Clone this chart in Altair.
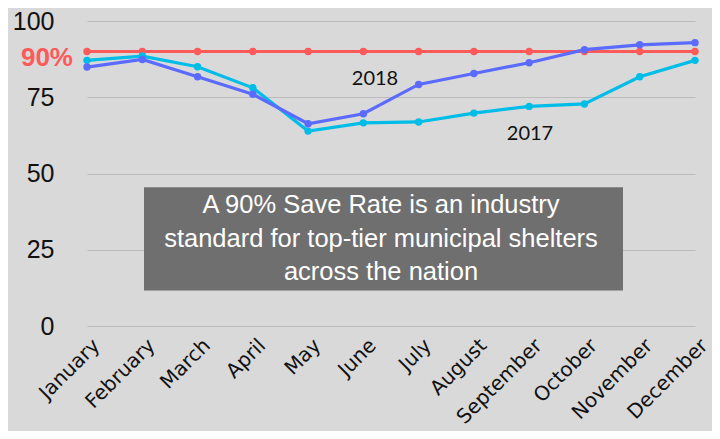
import altair as alt
import pandas as pd

months = ["January", "February", "March", "April", "May", "June", "July",
          "August", "September", "October", "November", "December"]
rate_2018 = [84.9, 87.4, 81.7, 76.0, 66.3, 69.6, 79.2, 82.8, 86.3, 90.6, 92.2, 92.9]
rate_2017 = [87.1, 88.5, 85.0, 78.1, 63.9, 66.6, 66.9, 69.8, 72.0, 72.8, 81.7, 87.1]
target = [90] * 12
y_ticks = [0, 25, 50, 75, 100]
note_lines = ["A 90% Save Rate is an industry",
              "standard for top-tier municipal shelters",
              "across the nation"]
series_labels = ["2018", "2017"]

BG = "#d9d9d9"
RED = "#ff5a5a"
BLUE = "#5b6bff"
CYAN = "#00bde8"

W, H = 652, 305

df = pd.DataFrame({
    "month": months * 3,
    "value": target + rate_2017 + rate_2018,
    "series": ["target"] * 12 + ["2017"] * 12 + ["2018"] * 12,
})

x_enc = alt.X("month:N", sort=months,
              scale=alt.Scale(type="point", padding=0, range=[27, 635]),
              axis=alt.Axis(title=None, labelAngle=-45, labelFontSize=20,
                            labelFont="DejaVu Sans", labelColor="#111111",
                            ticks=False, domain=False, grid=False,
                            labelPadding=9, labelOffset=2))
y_enc = alt.Y("value:Q", scale=alt.Scale(domain=[0, 100], nice=False),
              axis=alt.Axis(title=None, values=y_ticks, labelFontSize=25,
                            labelFont="Liberation Sans", labelColor="#111111",
                            ticks=False, domain=False, grid=True,
                            gridColor="#bcbcbc", gridWidth=1.2,
                            labelPadding=6))

color = alt.Color("series:N",
                  scale=alt.Scale(domain=["target", "2017", "2018"],
                                  range=[RED, CYAN, BLUE]),
                  legend=None)

lines = alt.Chart(df).mark_line(strokeWidth=3.2).encode(
    x=x_enc, y=y_enc, color=color, order=alt.Order("series:N"))
points = alt.Chart(df).mark_circle(size=55, opacity=1).encode(
    x=alt.X("month:N", sort=months), y="value:Q", color=color)

one = pd.DataFrame({"k": [0]})
box = alt.Chart(one).mark_rect(color="#6f6f6f").encode(
    x=alt.value(84), x2=alt.value(563),
    y=alt.datum(45.5), y2=alt.datum(11.6))

note_df = pd.DataFrame({"line": note_lines, "v": [39.7, 28.5, 17.6]})
note = alt.Chart(note_df).mark_text(
    color="white", fontSize=25.5, font="Liberation Sans",
    align="center", baseline="middle").encode(
    x=alt.value(321), y="v:Q", text="line:N")

lab_df = pd.DataFrame({"label": series_labels, "px": [315, 470], "v": [81.1, 63.1]})
labels = alt.Chart(lab_df).mark_text(
    fontSize=20, font="Lato", color="#111111", align="center",
    baseline="middle").encode(
    x=alt.X("px:Q", scale=None), y="v:Q", text="label:N")

pct = alt.Chart(one).mark_text(
    text="90%", color=RED, fontSize=26, fontWeight="bold",
    font="Liberation Sans", align="right", baseline="middle", dy=6).encode(
    x=alt.value(13), y=alt.datum(90))

chart = alt.layer(lines, points, box, note, labels, pct).properties(
    width=W, height=H,
    background=BG,
    padding={"left": 52, "top": 13, "right": 0, "bottom": 105},
    autosize=alt.AutoSizeParams(type="none"),
).configure_view(stroke=None, fill=BG)

chart.save("out.html", embed_options={"renderer": "svg", "actions": False})
